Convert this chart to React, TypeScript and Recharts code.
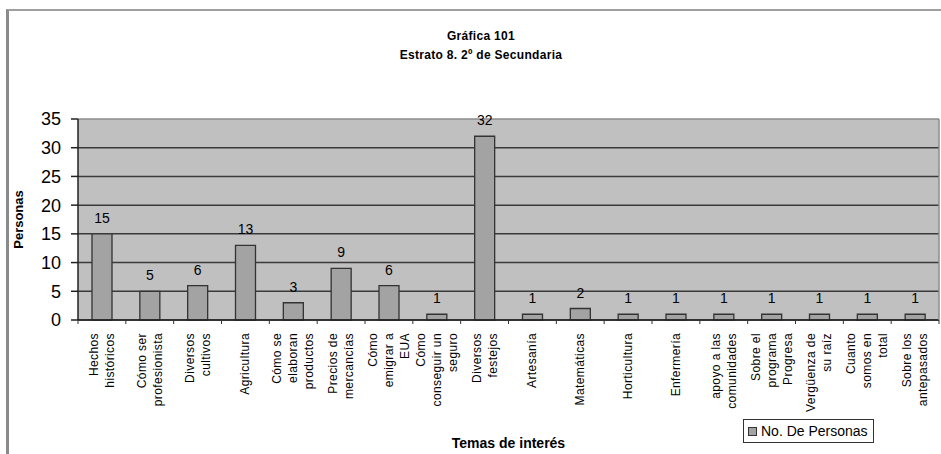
import { BarChart, Bar, XAxis, YAxis, CartesianGrid, LabelList, Legend } from 'recharts';

const temas = [
  'Hechos\nhistóricos',
  'Cómo ser\nprofesionista',
  'Diversos\ncultivos',
  'Agricultura',
  'Cómo se\nelaboran\nproductos',
  'Precios de\nmercancías',
  'Cómo\nemigrar a\nEUA',
  'Cómo\nconseguir un\nseguro',
  'Diversos\nfestejos',
  'Artesanía',
  'Matemáticas',
  'Horticultura',
  'Enfermería',
  'apoyo a las\ncomunidades',
  'Sobre el\nprograma\nProgresa',
  'Vergüenza de\nsu raíz',
  'Cuanto\nsomos en\ntotal',
  'Sobre los\nantepasados',
];
const personas = [15, 5, 6, 13, 3, 9, 6, 1, 32, 1, 2, 1, 1, 1, 1, 1, 1, 1];
const yTicks = [0, 5, 10, 15, 20, 25, 30, 35];
const serie = 'No. De Personas';

const data = temas.map((tema, i) => ({ tema, personas: personas[i] }));

const FONT = '"Liberation Sans", Arial, sans-serif';

function TemaTick(props: any) {
  const { x, y, payload, index, visibleTicksCount } = props;
  const lines = String(payload.value).split('\n');
  const half = payload.offset ?? 24;
  return (
    <g>
      <line x1={x - half} y1={y - 13} x2={x - half} y2={y - 9} stroke="#333" />
      {index === visibleTicksCount - 1 && (
        <line x1={x + half} y1={y - 13} x2={x + half} y2={y - 9} stroke="#333" />
      )}
      {lines.map((line, i) => {
        const lx = x + (i - (lines.length - 1) / 2) * 16;
        return (
          <text
            key={i}
            x={lx}
            y={y}
            transform={`rotate(-90, ${lx}, ${y})`}
            textAnchor="end"
            dominantBaseline="central"
            fontSize={12}
            letterSpacing={0.4}
            fontFamily={FONT}
            fill="#000"
          >
            {line}
          </text>
        );
      })}
    </g>
  );
}

// top edge of the plot is a light frame line, the rest are dark gridlines
function GridLine(props: any) {
  const { x1, y1, x2, y2, y } = props;
  const top = Math.abs(y1 - y) < 1;
  return <line x1={x1} y1={y1} x2={x2} y2={y2} stroke={top ? '#8c8c8c' : '#3a3a3a'} strokeWidth={1.5} />;
}

function Leyenda(props: any) {
  const item = props.payload?.[0];
  return (
    <div
      style={{
        border: '1.5px solid #333',
        background: '#fff',
        padding: '3px 5px 3px 4px',
        display: 'flex',
        alignItems: 'center',
        fontFamily: FONT,
        fontSize: 14,
        whiteSpace: 'nowrap',
      }}
    >
      <span
        style={{
          display: 'inline-block',
          width: 7,
          height: 7,
          background: '#a3a3a3',
          border: '1px solid #333',
          marginRight: 4,
        }}
      />
      {item ? item.value : serie}
    </div>
  );
}

export default function App() {
  return (
    <div style={{ position: 'absolute', left: 0, top: 0, width: 941, height: 454, background: '#fff', overflow: 'hidden' }}>
      <div
        style={{
          position: 'absolute',
          left: 6,
          top: 9,
          width: 940,
          height: 460,
          borderTop: '2px solid #a0a0a0',
          borderLeft: '3px solid #8a8a8a',
        }}
      />
      <div
        style={{
          position: 'absolute',
          left: 331,
          top: 27,
          width: 300,
          textAlign: 'center',
          fontFamily: FONT,
          fontWeight: 'bold',
          fontSize: 12,
          lineHeight: '19px',
          letterSpacing: 0.3,
        }}
      >
        Gráfica 101
        <br />
        Estrato 8. 2º de Secundaria
      </div>
      <div style={{ position: 'absolute', left: 0, top: 0 }}>
        <BarChart width={941} height={454} data={data} margin={{ top: 119, right: 1, bottom: 0, left: 0 }} barCategoryGap={0}>
          <CartesianGrid vertical={false} fill="#c0c0c0" horizontal={(p: any) => <GridLine {...p} />} />
          <XAxis
            dataKey="tema"
            interval={0}
            height={134}
            tickSize={0}
            tickMargin={13}
            tickLine={false}
            axisLine={{ stroke: '#222', strokeWidth: 1.5 }}
            tick={<TemaTick />}
            label={{
              value: 'Temas de interés',
              position: 'insideBottom',
              offset: 6,
              style: { fontFamily: FONT, fontWeight: 'bold', fontSize: 14, fill: '#000' },
            }}
          />
          <YAxis
            width={78}
            domain={[0, 35]}
            ticks={yTicks}
            interval={0}
            tickSize={7}
            tickMargin={10}
            axisLine={{ stroke: '#222', strokeWidth: 1.5 }}
            tickLine={{ stroke: '#222', strokeWidth: 1.5 }}
            tick={{ fontSize: 18, fill: '#000', fontFamily: FONT }}
            label={{
              value: 'Personas',
              angle: -90,
              position: 'insideLeft',
              offset: 18,
              style: { textAnchor: 'middle', fontFamily: FONT, fontWeight: 'bold', fontSize: 13, fill: '#000' },
            }}
          />
          <YAxis
            yAxisId="marco"
            orientation="right"
            width={1}
            tick={false}
            tickLine={false}
            axisLine={{ stroke: '#8c8c8c', strokeWidth: 1.5 }}
          />
          <Legend
            layout="vertical"
            align="center"
            verticalAlign="middle"
            wrapperStyle={{ left: 743, top: 419, width: 'auto' }}
            content={<Leyenda />}
          />
          <Bar dataKey="personas" name={serie} fill="#a3a3a3" stroke="#333" strokeWidth={1.3} barSize={20} isAnimationActive={false}>
            <LabelList dataKey="personas" position="top" offset={11} style={{ fontSize: 14, fill: '#000', fontFamily: FONT }} />
          </Bar>
        </BarChart>
      </div>
    </div>
  );
}
